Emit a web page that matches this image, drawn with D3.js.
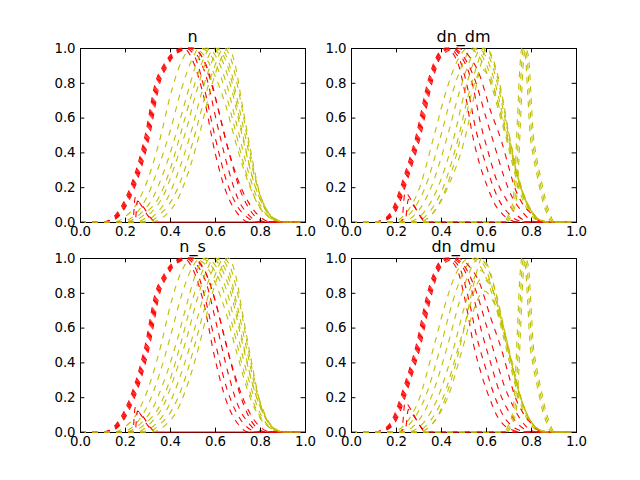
<!DOCTYPE html>
<html>
<head>
<meta charset="utf-8">
<script src="https://cdn.jsdelivr.net/npm/d3@7"></script>
<style>
  body { margin: 0; background: #fff; }
  svg { display: block; }
</style>
</head>
<body>
<svg id="chart" width="640" height="480"></svg>
<script>
// Curves: each is a list of [x, y] points
const tickVals = [0, 0.2, 0.4, 0.6, 0.8, 1.0];
const titles = ["n", "dn_dm", "n_s", "dn_dmu"];

const nRed = [
  [[0,0],[0.10,0],[0.15,0.03],[0.20,0.13],[0.245,0.28],[0.29,0.50],[0.335,0.80],[0.37,0.90],[0.41,0.97],[0.46,1.0],[0.50,0.93],[0.55,0.72],[0.60,0.40],[0.65,0.17],[0.70,0.05],[0.75,0],[1,0]],
  [[0,0],[0.105,0],[0.155,0.03],[0.205,0.13],[0.25,0.28],[0.295,0.50],[0.34,0.80],[0.375,0.90],[0.415,0.97],[0.47,1.0],[0.51,0.95],[0.55,0.78],[0.60,0.49],[0.65,0.24],[0.70,0.09],[0.75,0.02],[0.79,0],[1,0]],
  [[0,0],[0.11,0],[0.16,0.03],[0.21,0.13],[0.255,0.28],[0.30,0.50],[0.345,0.80],[0.38,0.90],[0.42,0.97],[0.48,1.0],[0.52,0.96],[0.56,0.84],[0.61,0.56],[0.66,0.30],[0.70,0.14],[0.75,0.04],[0.80,0],[1,0]],
  [[0,0],[0.115,0],[0.165,0.03],[0.215,0.13],[0.26,0.28],[0.305,0.50],[0.35,0.80],[0.385,0.90],[0.425,0.97],[0.49,1.0],[0.53,0.97],[0.57,0.87],[0.62,0.62],[0.67,0.36],[0.71,0.19],[0.75,0.08],[0.80,0.01],[0.83,0],[1,0]],
  [[0,0],[0.12,0],[0.17,0.03],[0.22,0.13],[0.265,0.28],[0.31,0.50],[0.355,0.80],[0.39,0.90],[0.43,0.97],[0.50,1.0],[0.55,0.93],[0.60,0.72],[0.65,0.46],[0.70,0.25],[0.75,0.11],[0.80,0.03],[0.85,0],[1,0]],
  [[0,0],[0.235,0],[0.245,0.14],[0.27,0.10],[0.30,0.04],[0.33,0],[1,0]],
  [[0,0],[0.245,0],[0.255,0.12],[0.28,0.09],[0.31,0.03],[0.34,0],[1,0]]
];
const nYellow = [
  [[0,0],[0.15,0],[0.20,0.03],[0.25,0.10],[0.30,0.24],[0.36,0.50],[0.40,0.72],[0.45,0.92],[0.50,1.0],[0.55,0.96],[0.60,0.84],[0.65,0.66],[0.70,0.42],[0.75,0.22],[0.80,0.08],[0.85,0.02],[0.90,0],[1,0]],
  [[0,0],[0.18,0],[0.25,0.05],[0.30,0.15],[0.35,0.32],[0.40,0.52],[0.45,0.76],[0.50,0.94],[0.53,1.0],[0.58,0.96],[0.63,0.82],[0.68,0.58],[0.73,0.32],[0.78,0.13],[0.83,0.04],[0.88,0],[1,0]],
  [[0,0],[0.20,0],[0.27,0.05],[0.32,0.13],[0.37,0.28],[0.43,0.52],[0.48,0.75],[0.52,0.92],[0.56,1.0],[0.60,0.96],[0.65,0.80],[0.70,0.54],[0.75,0.28],[0.80,0.10],[0.85,0.02],[0.89,0],[1,0]],
  [[0,0],[0.22,0],[0.30,0.06],[0.35,0.14],[0.40,0.30],[0.45,0.52],[0.50,0.75],[0.55,0.94],[0.58,1.0],[0.62,0.96],[0.67,0.78],[0.72,0.50],[0.77,0.24],[0.82,0.08],[0.87,0.01],[0.90,0],[1,0]],
  [[0,0],[0.25,0],[0.32,0.06],[0.37,0.15],[0.42,0.32],[0.47,0.52],[0.52,0.76],[0.56,0.92],[0.60,1.0],[0.64,0.95],[0.68,0.78],[0.72,0.52],[0.77,0.24],[0.82,0.08],[0.87,0.01],[0.90,0],[1,0]],
  [[0,0],[0.27,0],[0.34,0.05],[0.39,0.14],[0.44,0.30],[0.49,0.50],[0.54,0.74],[0.58,0.90],[0.62,1.0],[0.66,0.92],[0.70,0.70],[0.74,0.46],[0.78,0.24],[0.82,0.09],[0.87,0.01],[0.90,0],[1,0]],
  [[0,0],[0.30,0],[0.36,0.05],[0.41,0.13],[0.46,0.28],[0.51,0.50],[0.56,0.74],[0.60,0.90],[0.64,1.0],[0.67,0.94],[0.71,0.72],[0.75,0.44],[0.79,0.20],[0.83,0.07],[0.88,0.01],[0.91,0],[1,0]],
  [[0,0],[0.32,0],[0.38,0.04],[0.43,0.12],[0.48,0.28],[0.53,0.50],[0.58,0.76],[0.62,0.92],[0.66,1.0],[0.69,0.90],[0.72,0.68],[0.76,0.40],[0.80,0.16],[0.84,0.05],[0.88,0.01],[0.91,0],[1,0]]
];

const dmRed = [
  [[0,0],[0.10,0],[0.15,0.02],[0.19,0.09],[0.21,0.16],[0.24,0.28],[0.29,0.50],[0.34,0.80],[0.38,0.95],[0.42,1.0],[0.47,0.93],[0.51,0.72],[0.54,0.50],[0.57,0.34],[0.61,0.19],[0.64,0.10],[0.67,0.05],[0.71,0.01],[0.75,0],[1,0]],
  [[0,0],[0.105,0],[0.155,0.02],[0.195,0.09],[0.215,0.16],[0.245,0.28],[0.295,0.50],[0.345,0.80],[0.385,0.95],[0.43,1.0],[0.48,0.94],[0.52,0.76],[0.555,0.53],[0.59,0.37],[0.63,0.21],[0.66,0.12],[0.70,0.05],[0.74,0.01],[0.78,0],[1,0]],
  [[0,0],[0.11,0],[0.16,0.02],[0.20,0.09],[0.22,0.16],[0.25,0.28],[0.30,0.50],[0.35,0.80],[0.39,0.95],[0.44,1.0],[0.49,0.95],[0.54,0.79],[0.575,0.57],[0.61,0.40],[0.65,0.23],[0.69,0.13],[0.73,0.05],[0.77,0.01],[0.80,0],[1,0]],
  [[0,0],[0.115,0],[0.165,0.02],[0.205,0.09],[0.225,0.16],[0.255,0.28],[0.305,0.50],[0.355,0.80],[0.395,0.95],[0.45,1.0],[0.50,0.95],[0.55,0.82],[0.60,0.60],[0.64,0.43],[0.68,0.26],[0.71,0.16],[0.76,0.06],[0.80,0.01],[0.83,0],[1,0]],
  [[0,0],[0.12,0],[0.17,0.02],[0.21,0.09],[0.23,0.16],[0.26,0.28],[0.31,0.50],[0.36,0.80],[0.40,0.95],[0.47,1.0],[0.52,0.96],[0.57,0.85],[0.62,0.64],[0.67,0.46],[0.70,0.32],[0.73,0.19],[0.76,0.11],[0.80,0.05],[0.85,0],[1,0]],
  [[0,0],[0.225,0],[0.24,0.17],[0.27,0.12],[0.30,0.05],[0.33,0],[1,0]],
  [[0,0],[0.24,0],[0.255,0.13],[0.28,0.09],[0.31,0.03],[0.34,0],[1,0]]
];
const dmYellow = [
  [[0,0],[0.18,0],[0.25,0.06],[0.30,0.18],[0.37,0.50],[0.42,0.74],[0.47,0.92],[0.52,1.0],[0.57,0.95],[0.62,0.80],[0.66,0.62],[0.69,0.48],[0.72,0.32],[0.76,0.14],[0.80,0.04],[0.85,0],[1,0]],
  [[0,0],[0.20,0],[0.27,0.06],[0.33,0.20],[0.40,0.50],[0.45,0.74],[0.50,0.92],[0.54,1.0],[0.58,0.96],[0.63,0.80],[0.67,0.60],[0.70,0.46],[0.73,0.30],[0.77,0.13],[0.81,0.04],[0.86,0],[1,0]],
  [[0,0],[0.22,0],[0.29,0.05],[0.35,0.18],[0.43,0.50],[0.48,0.74],[0.52,0.90],[0.56,1.0],[0.60,0.95],[0.64,0.80],[0.68,0.58],[0.71,0.42],[0.74,0.26],[0.78,0.11],[0.82,0.03],[0.87,0],[1,0]],
  [[0,0],[0.25,0],[0.32,0.05],[0.38,0.18],[0.46,0.50],[0.50,0.72],[0.54,0.90],[0.58,1.0],[0.61,0.96],[0.65,0.80],[0.69,0.56],[0.72,0.38],[0.75,0.22],[0.79,0.09],[0.83,0.02],[0.87,0],[1,0]],
  [[0,0],[0.28,0],[0.35,0.06],[0.41,0.20],[0.48,0.50],[0.52,0.72],[0.56,0.90],[0.59,1.0],[0.62,0.96],[0.66,0.78],[0.70,0.52],[0.73,0.34],[0.76,0.19],[0.80,0.07],[0.84,0.01],[0.88,0],[1,0]],
  [[0,0],[0.30,0],[0.37,0.06],[0.43,0.20],[0.51,0.50],[0.55,0.74],[0.58,0.92],[0.60,1.0],[0.63,0.94],[0.67,0.74],[0.70,0.52],[0.73,0.32],[0.77,0.15],[0.81,0.05],[0.85,0.01],[0.88,0],[1,0]],
  [[0,0],[0.30,0],[0.38,0.08],[0.45,0.30],[0.50,0.55],[0.55,0.80],[0.58,0.88],[0.61,0.84],[0.65,0.70],[0.69,0.50],[0.73,0.30],[0.77,0.13],[0.81,0.04],[0.85,0],[1,0]],
  [[0,0],[0.68,0],[0.70,0.04],[0.72,0.12],[0.73,0.30],[0.74,0.60],[0.75,0.88],[0.76,1.0],[0.775,0.95],[0.785,0.75],[0.795,0.52],[0.81,0.38],[0.83,0.25],[0.85,0.13],[0.87,0.05],[0.89,0],[1,0]],
  [[0,0],[0.687,0],[0.707,0.04],[0.727,0.12],[0.737,0.30],[0.747,0.60],[0.757,0.88],[0.767,1.0],[0.782,0.95],[0.792,0.75],[0.802,0.52],[0.817,0.38],[0.837,0.25],[0.857,0.13],[0.877,0.05],[0.897,0],[1,0]],
  [[0,0],[0.694,0],[0.714,0.04],[0.734,0.12],[0.744,0.30],[0.754,0.60],[0.764,0.88],[0.774,1.0],[0.789,0.95],[0.799,0.75],[0.809,0.52],[0.824,0.38],[0.844,0.25],[0.864,0.13],[0.884,0.05],[0.904,0],[1,0]]
];

const nsRed = [
  [[0,0],[0.10,0],[0.15,0.03],[0.20,0.13],[0.245,0.28],[0.29,0.50],[0.335,0.80],[0.37,0.90],[0.41,0.97],[0.46,1.0],[0.50,0.94],[0.55,0.74],[0.60,0.42],[0.65,0.18],[0.70,0.05],[0.75,0],[1,0]],
  [[0,0],[0.105,0],[0.155,0.03],[0.205,0.13],[0.25,0.28],[0.295,0.50],[0.34,0.80],[0.375,0.90],[0.415,0.97],[0.47,1.0],[0.51,0.95],[0.55,0.80],[0.60,0.52],[0.65,0.26],[0.70,0.10],[0.75,0.02],[0.79,0],[1,0]],
  [[0,0],[0.11,0],[0.16,0.03],[0.21,0.13],[0.255,0.28],[0.30,0.50],[0.345,0.80],[0.38,0.90],[0.42,0.97],[0.48,1.0],[0.52,0.96],[0.56,0.86],[0.61,0.60],[0.66,0.33],[0.70,0.16],[0.75,0.05],[0.80,0],[1,0]],
  [[0,0],[0.115,0],[0.165,0.03],[0.215,0.13],[0.26,0.28],[0.305,0.50],[0.35,0.80],[0.385,0.90],[0.425,0.97],[0.49,1.0],[0.53,0.97],[0.57,0.88],[0.62,0.66],[0.67,0.40],[0.71,0.22],[0.75,0.09],[0.80,0.01],[0.83,0],[1,0]],
  [[0,0],[0.12,0],[0.17,0.03],[0.22,0.13],[0.265,0.28],[0.31,0.50],[0.355,0.80],[0.39,0.90],[0.43,0.97],[0.50,1.0],[0.55,0.94],[0.60,0.76],[0.65,0.50],[0.70,0.28],[0.75,0.12],[0.80,0.03],[0.85,0],[1,0]],
  [[0,0],[0.235,0],[0.245,0.14],[0.27,0.10],[0.30,0.04],[0.33,0],[1,0]],
  [[0,0],[0.245,0],[0.255,0.12],[0.28,0.09],[0.31,0.03],[0.34,0],[1,0]]
];
const nsYellow = [
  [[0,0],[0.15,0],[0.20,0.03],[0.25,0.10],[0.30,0.24],[0.36,0.50],[0.40,0.72],[0.45,0.92],[0.50,1.0],[0.55,0.97],[0.60,0.86],[0.65,0.68],[0.70,0.44],[0.75,0.22],[0.80,0.08],[0.85,0.02],[0.90,0],[1,0]],
  [[0,0],[0.18,0],[0.25,0.05],[0.30,0.15],[0.35,0.32],[0.40,0.54],[0.45,0.78],[0.50,0.95],[0.54,1.0],[0.58,0.96],[0.63,0.84],[0.68,0.60],[0.73,0.34],[0.78,0.14],[0.83,0.04],[0.88,0],[1,0]],
  [[0,0],[0.20,0],[0.27,0.05],[0.32,0.13],[0.37,0.28],[0.43,0.52],[0.48,0.76],[0.52,0.93],[0.56,1.0],[0.60,0.96],[0.65,0.82],[0.70,0.56],[0.75,0.30],[0.80,0.11],[0.85,0.02],[0.89,0],[1,0]],
  [[0,0],[0.22,0],[0.30,0.06],[0.35,0.14],[0.40,0.30],[0.45,0.52],[0.50,0.76],[0.55,0.94],[0.58,1.0],[0.62,0.96],[0.67,0.80],[0.72,0.52],[0.77,0.26],[0.82,0.09],[0.87,0.01],[0.90,0],[1,0]],
  [[0,0],[0.25,0],[0.32,0.06],[0.37,0.15],[0.42,0.32],[0.47,0.52],[0.52,0.76],[0.56,0.92],[0.60,1.0],[0.64,0.95],[0.68,0.80],[0.72,0.54],[0.77,0.26],[0.82,0.09],[0.87,0.01],[0.90,0],[1,0]],
  [[0,0],[0.27,0],[0.34,0.05],[0.39,0.14],[0.44,0.30],[0.49,0.50],[0.54,0.74],[0.58,0.90],[0.62,1.0],[0.66,0.93],[0.70,0.72],[0.74,0.48],[0.78,0.25],[0.82,0.10],[0.87,0.01],[0.90,0],[1,0]],
  [[0,0],[0.30,0],[0.36,0.05],[0.41,0.13],[0.46,0.28],[0.51,0.50],[0.56,0.74],[0.60,0.90],[0.64,1.0],[0.67,0.94],[0.71,0.74],[0.75,0.46],[0.79,0.22],[0.83,0.08],[0.88,0.01],[0.91,0],[1,0]],
  [[0,0],[0.32,0],[0.38,0.04],[0.43,0.12],[0.48,0.28],[0.53,0.50],[0.58,0.76],[0.62,0.92],[0.66,1.0],[0.69,0.91],[0.72,0.70],[0.76,0.42],[0.80,0.17],[0.84,0.05],[0.88,0.01],[0.91,0],[1,0]]
];

const dmuRed = [
  [[0,0],[0.10,0],[0.15,0.02],[0.19,0.09],[0.21,0.16],[0.24,0.28],[0.29,0.50],[0.34,0.80],[0.38,0.95],[0.42,1.0],[0.47,0.94],[0.51,0.74],[0.545,0.50],[0.58,0.33],[0.62,0.18],[0.65,0.09],[0.68,0.04],[0.72,0.01],[0.75,0],[1,0]],
  [[0,0],[0.105,0],[0.155,0.02],[0.195,0.09],[0.215,0.16],[0.245,0.28],[0.295,0.50],[0.345,0.80],[0.385,0.95],[0.43,1.0],[0.48,0.95],[0.52,0.78],[0.56,0.54],[0.60,0.36],[0.64,0.20],[0.67,0.11],[0.71,0.04],[0.75,0.01],[0.78,0],[1,0]],
  [[0,0],[0.11,0],[0.16,0.02],[0.20,0.09],[0.22,0.16],[0.25,0.28],[0.30,0.50],[0.35,0.80],[0.39,0.95],[0.44,1.0],[0.49,0.96],[0.54,0.80],[0.58,0.58],[0.62,0.40],[0.66,0.23],[0.70,0.12],[0.74,0.05],[0.78,0.01],[0.81,0],[1,0]],
  [[0,0],[0.115,0],[0.165,0.02],[0.205,0.09],[0.225,0.16],[0.255,0.28],[0.305,0.50],[0.355,0.80],[0.395,0.95],[0.45,1.0],[0.50,0.96],[0.55,0.83],[0.60,0.62],[0.64,0.44],[0.68,0.27],[0.72,0.15],[0.76,0.06],[0.80,0.01],[0.83,0],[1,0]],
  [[0,0],[0.12,0],[0.17,0.02],[0.21,0.09],[0.23,0.16],[0.26,0.28],[0.31,0.50],[0.36,0.80],[0.40,0.95],[0.47,1.0],[0.52,0.96],[0.57,0.86],[0.62,0.66],[0.67,0.47],[0.70,0.33],[0.73,0.20],[0.76,0.12],[0.80,0.05],[0.85,0],[1,0]],
  [[0,0],[0.225,0],[0.24,0.17],[0.27,0.12],[0.30,0.05],[0.33,0],[1,0]],
  [[0,0],[0.24,0],[0.255,0.13],[0.28,0.09],[0.31,0.03],[0.34,0],[1,0]]
];
const dmuYellow = [
  [[0,0],[0.18,0],[0.25,0.06],[0.30,0.18],[0.37,0.50],[0.42,0.74],[0.47,0.92],[0.53,1.0],[0.57,0.96],[0.62,0.82],[0.66,0.64],[0.69,0.48],[0.72,0.32],[0.76,0.14],[0.80,0.04],[0.85,0],[1,0]],
  [[0,0],[0.20,0],[0.27,0.06],[0.33,0.20],[0.40,0.50],[0.45,0.74],[0.50,0.92],[0.55,1.0],[0.59,0.96],[0.63,0.82],[0.67,0.62],[0.70,0.46],[0.73,0.30],[0.77,0.13],[0.81,0.04],[0.86,0],[1,0]],
  [[0,0],[0.22,0],[0.29,0.05],[0.35,0.18],[0.43,0.50],[0.48,0.74],[0.52,0.90],[0.57,1.0],[0.60,0.96],[0.64,0.82],[0.68,0.60],[0.71,0.42],[0.74,0.26],[0.78,0.11],[0.82,0.03],[0.87,0],[1,0]],
  [[0,0],[0.25,0],[0.32,0.05],[0.38,0.18],[0.46,0.50],[0.50,0.70],[0.54,0.86],[0.57,0.93],[0.60,0.90],[0.64,0.78],[0.68,0.56],[0.72,0.36],[0.75,0.21],[0.79,0.08],[0.83,0.02],[0.87,0],[1,0]],
  [[0,0],[0.28,0],[0.35,0.06],[0.41,0.20],[0.48,0.50],[0.52,0.68],[0.55,0.82],[0.58,0.88],[0.61,0.86],[0.65,0.74],[0.69,0.54],[0.73,0.33],[0.76,0.18],[0.80,0.06],[0.84,0.01],[0.88,0],[1,0]],
  [[0,0],[0.30,0],[0.37,0.06],[0.43,0.20],[0.50,0.50],[0.54,0.68],[0.57,0.78],[0.59,0.81],[0.62,0.78],[0.66,0.66],[0.70,0.48],[0.73,0.31],[0.77,0.14],[0.81,0.04],[0.85,0.01],[0.88,0],[1,0]],
  [[0,0],[0.30,0],[0.38,0.08],[0.45,0.32],[0.50,0.58],[0.54,0.82],[0.57,0.97],[0.58,1.0],[0.61,0.95],[0.65,0.76],[0.69,0.52],[0.73,0.30],[0.77,0.13],[0.81,0.04],[0.85,0],[1,0]],
  [[0,0],[0.68,0],[0.70,0.04],[0.72,0.12],[0.73,0.30],[0.74,0.60],[0.75,0.88],[0.76,1.0],[0.775,0.95],[0.785,0.75],[0.795,0.52],[0.81,0.38],[0.83,0.25],[0.85,0.13],[0.87,0.05],[0.89,0],[1,0]],
  [[0,0],[0.687,0],[0.707,0.04],[0.727,0.12],[0.737,0.30],[0.747,0.60],[0.757,0.88],[0.767,1.0],[0.782,0.95],[0.792,0.75],[0.802,0.52],[0.817,0.38],[0.837,0.25],[0.857,0.13],[0.877,0.05],[0.897,0],[1,0]],
  [[0,0],[0.694,0],[0.714,0.04],[0.734,0.12],[0.744,0.30],[0.754,0.60],[0.764,0.88],[0.774,1.0],[0.789,0.95],[0.799,0.75],[0.809,0.52],[0.824,0.38],[0.844,0.25],[0.864,0.13],[0.884,0.05],[0.904,0],[1,0]]
];

const panels = [
  { title: titles[0], red: nRed, yellow: nYellow },
  { title: titles[1], red: dmRed, yellow: dmYellow },
  { title: titles[2], red: nsRed, yellow: nsYellow },
  { title: titles[3], red: dmuRed, yellow: dmuYellow }
];

const svg = d3.select("#chart");
const axW = 225, axH = 174;
const lefts = [80, 351], tops = [48, 258];
const font = "'DejaVu Sans', sans-serif";

panels.forEach((p, i) => {
  const x0 = lefts[i % 2], y0 = tops[Math.floor(i / 2)];
  const x = d3.scaleLinear().domain([0, 1]).range([x0, x0 + axW]);
  const y = d3.scaleLinear().domain([0, 1]).range([y0 + axH, y0]);

  const g = svg.append("g");

  g.append("clipPath").attr("id", "clip" + i)
    .append("rect")
    .attr("x", x0).attr("y", y0 - 1)
    .attr("width", axW + 1).attr("height", axH + 2);

  g.append("rect")
    .attr("x", x0 + 0.5).attr("y", y0 + 0.5)
    .attr("width", axW).attr("height", axH)
    .attr("fill", "none").attr("stroke", "black");

  const line = d3.line()
    .x(d => x(d[0]))
    .y(d => y(d[1]))
    .curve(d3.curveMonotoneX);

  // red and yellow are drawn in turn, as the original loop did
  const curves = [];
  const n = Math.max(p.red.length, p.yellow.length);
  for (let k = 0; k < n; k++) {
    if (k < p.red.length) curves.push({ c: "#ff0000", pts: p.red[k] });
    if (k < p.yellow.length) curves.push({ c: "#bfbf00", pts: p.yellow[k] });
  }

  g.append("g").attr("clip-path", `url(#clip${i})`)
    .selectAll("path")
    .data(curves)
    .enter().append("path")
    .attr("d", d => line(d.pts))
    .attr("fill", "none")
    .attr("stroke", d => d.c)
    .attr("stroke-width", 1.1)
    .attr("stroke-dasharray", "6,6");

  const fmt = d3.format(".1f");

  const bottom = g.append("g")
    .attr("transform", `translate(0,${y0 + axH})`)
    .call(d3.axisBottom(x).tickValues(tickVals).tickFormat(fmt)
      .tickSizeInner(-4.4).tickSizeOuter(0).tickPadding(4.4));
  const left = g.append("g")
    .attr("transform", `translate(${x0},0)`)
    .call(d3.axisLeft(y).tickValues(tickVals).tickFormat(fmt)
      .tickSizeInner(-4.4).tickSizeOuter(0).tickPadding(4.4));
  const top = g.append("g")
    .attr("transform", `translate(0,${y0})`)
    .call(d3.axisTop(x).tickValues(tickVals).tickFormat("")
      .tickSizeInner(-4.4).tickSizeOuter(0));
  const right = g.append("g")
    .attr("transform", `translate(${x0 + axW},0)`)
    .call(d3.axisRight(y).tickValues(tickVals).tickFormat("")
      .tickSizeInner(-4.4).tickSizeOuter(0));

  [bottom, left, top, right].forEach(a => {
    a.select(".domain").remove();
    a.attr("font-family", font).attr("font-size", "13.33px");
    a.selectAll("text").attr("fill", "black");
  });

  g.append("text")
    .attr("x", x0 + axW / 2)
    .attr("y", y0 - 6)
    .attr("text-anchor", "middle")
    .style("font-family", font)
    .style("font-size", "16px")
    .text(p.title);
});
</script>
</body>
</html>
